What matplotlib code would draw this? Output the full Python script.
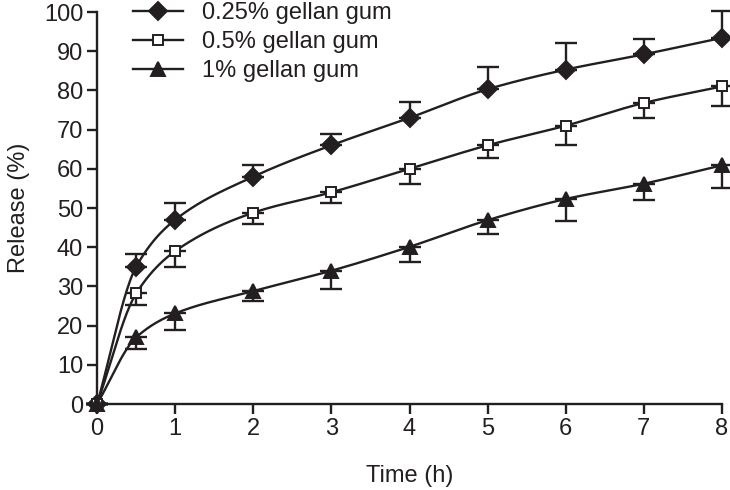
import numpy as np
import matplotlib
matplotlib.use("Agg")
import matplotlib.pyplot as plt

plt.rcParams['font.family'] = ['Liberation Sans', 'DejaVu Sans']

time_h = [0, 0.5, 1, 2, 3, 4, 5, 6, 7, 8]
gg025 = [0, 35, 47, 58, 66, 73, 80.3, 85.3, 89.2, 93.4]
gg025_err = [0, 3.2, 4.2, 3, 2.8, 4, 5.6, 6.8, 4, 6.8]
gg05 = [0, 28.2, 39, 48.8, 54, 60, 66, 71, 76.8, 81]
gg05_err = [0, 2.9, 4, 3, 2.8, 4, 3.2, 4.8, 3.8, 5]
gg1 = [0, 17, 23.1, 28.8, 34, 40.1, 46.9, 52.3, 56.2, 60.9]
gg1_err = [0, 3, 4.3, 2.6, 4.7, 3.8, 3.6, 5.5, 4.1, 5.9]
labels = ['0.25% gellan gum', '0.5% gellan gum', '1% gellan gum']


def pchip(x, y, xs):
    x = np.asarray(x, float); y = np.asarray(y, float)
    h = np.diff(x); d = np.diff(y) / h
    m = np.zeros_like(y)
    for k in range(1, len(x) - 1):
        if d[k - 1] * d[k] > 0:
            w1 = 2 * h[k] + h[k - 1]; w2 = h[k] + 2 * h[k - 1]
            m[k] = (w1 + w2) / (w1 / d[k - 1] + w2 / d[k])
    m[0] = d[0]; m[-1] = d[-1]
    out = np.empty_like(xs)
    for i, xv in enumerate(xs):
        k = min(np.searchsorted(x, xv, side='right') - 1, len(x) - 2)
        t = (xv - x[k]) / h[k]
        h00 = 2*t**3 - 3*t**2 + 1; h10 = t**3 - 2*t**2 + t
        h01 = -2*t**3 + 3*t**2; h11 = t**3 - t**2
        out[i] = h00*y[k] + h10*h[k]*m[k] + h01*y[k+1] + h11*h[k]*m[k+1]
    return out


INK = '#231f20'
FS = 17

fig = plt.figure(figsize=(7.3, 4.9), dpi=100)
ax = fig.add_axes([0.133, 0.1755, 0.856, 0.8])

xs = np.linspace(0, 8, 400)
series = [
    (gg025, gg025_err, 'D', INK, 'up', 9),
    (gg05, gg05_err, 's', 'white', 'down', 7.5),
    (gg1, gg1_err, '^', INK, 'down', 9.5),
]
handles = []
for (vals, err, mk, fc, side, ms), lab in zip(series, labels):
    ax.plot(xs, pchip(time_h, vals, xs), color=INK, lw=1.7, zorder=2)
    e = np.array(err)
    yerr = [np.zeros_like(e), e] if side == 'up' else [e, np.zeros_like(e)]
    ax.errorbar(time_h, vals, yerr=yerr, fmt='none', ecolor=INK,
                elinewidth=1.7, capsize=8, capthick=1.7, zorder=2)
    ax.plot(time_h, vals, linestyle='none', marker=mk, ms=ms, mfc=fc,
            mec=INK, mew=1.4, zorder=3)
    h, = ax.plot([], [], color=INK, lw=1.7, marker=mk, ms=ms, mfc=fc,
                 mec=INK, mew=1.4)
    handles.append(h)

ax.set_xlim(0, 8)
ax.set_ylim(0, 100)
ax.set_xticks(range(0, 9))
ax.set_yticks(range(0, 101, 10))
for s in ['top', 'right']:
    ax.spines[s].set_visible(False)
for s in ['left', 'bottom']:
    ax.spines[s].set_linewidth(1.7)
    ax.spines[s].set_color(INK)
ax.tick_params(direction='out', length=7, width=1.7, colors=INK,
               labelsize=FS, labelcolor=INK, pad=3)
ax.set_xlabel('Time (h)', fontsize=FS, color=INK, labelpad=18)
ax.set_ylabel('Release (%)', fontsize=FS, color=INK, labelpad=10)
for a in ax.get_children():
    try:
        a.set_clip_on(False)
    except Exception:
        pass

leg = ax.legend(handles, labels, loc='upper left', bbox_to_anchor=(0.058, 1.025),
                frameon=False, fontsize=FS, handlelength=2.1, handletextpad=0.8,
                labelspacing=0.3, borderaxespad=0, borderpad=0,
                labelcolor=INK)

fig.savefig('out.png', dpi=100)
